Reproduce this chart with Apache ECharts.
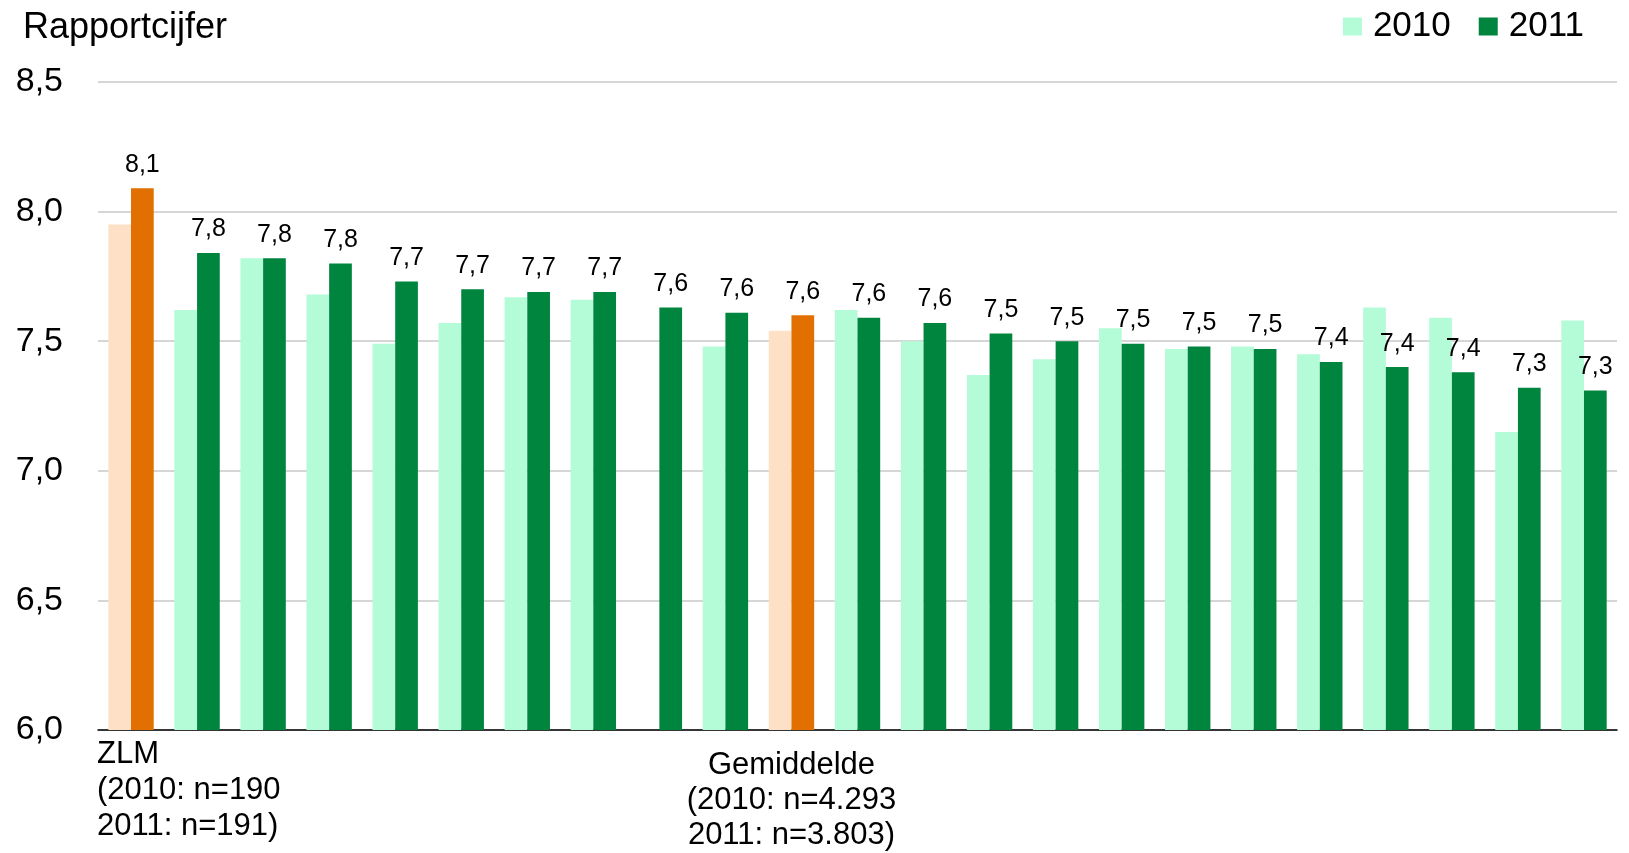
<!DOCTYPE html>
<html>
<head>
<meta charset="utf-8">
<script src="https://cdn.jsdelivr.net/npm/echarts@6/dist/echarts.min.js"></script>
<style>
html,body{margin:0;padding:0;background:#fff;}
#chart{width:1629px;height:853px;}
</style>
</head>
<body>
<div id="chart"></div>
<script>
const categories = [
  'ZLM\n(2010: n=190\n2011: n=191)', '', '', '', '', '', '', '', '', '',
  'Gemiddelde\n(2010: n=4.293\n2011: n=3.803)', '', '', '', '', '', '', '', '', '', '', '', ''
];
const seriesNames = ['2010', '2011'];
const values2010 = [7.95, 7.62, 7.82, 7.68, 7.49, 7.57, 7.67, 7.66, null, 7.48, 7.54, 7.62, 7.50, 7.37, 7.43, 7.55, 7.47, 7.48, 7.45, 7.63, 7.59, 7.15, 7.58];
const values2011 = [8.09, 7.84, 7.82, 7.80, 7.73, 7.70, 7.69, 7.69, 7.63, 7.61, 7.60, 7.59, 7.57, 7.53, 7.50, 7.49, 7.48, 7.47, 7.42, 7.40, 7.38, 7.32, 7.31];
const highlightIndex = [0, 10];
const yTicks = [6.0, 6.5, 7.0, 7.5, 8.0, 8.5];

const FONT = "'Liberation Sans', Arial, sans-serif";
const C2010 = '#b3fcd7', C2011 = '#00853f', H2010 = '#fde0c5', H2011 = '#e27000';

function build(vals, hcol) {
  return vals.map((v, i) => highlightIndex.includes(i)
    ? { value: v, itemStyle: { color: hcol } }
    : { value: v });
}
const fmt = v => v.toFixed(1).replace('.', ',');

const chart = echarts.init(document.getElementById('chart'));
chart.setOption({
  animation: false,
  textStyle: { fontFamily: FONT, color: '#000' },
  title: {
    text: 'Rapportcijfer', left: 18, top: 5,
    textStyle: { fontFamily: FONT, fontSize: 36, fontWeight: 'normal', color: '#000' }
  },
  legend: {
    data: seriesNames, right: 40, top: 4, icon: 'rect',
    itemWidth: 19, itemHeight: 18, itemGap: 28,
    textStyle: { fontFamily: FONT, fontSize: 35, color: '#000', padding: [0, 0, 0, 6] }
  },
  grid: { left: 98, right: 12, top: 82, bottom: 121.5, containLabel: false },
  xAxis: {
    type: 'category', data: categories,
    axisLine: { show: true, lineStyle: { color: '#000', width: 1.5 } },
    axisTick: { show: false },
    axisLabel: {
      interval: 0, margin: 6, color: '#000', fontFamily: FONT, fontSize: 31, lineHeight: 36,
      formatter: function (value, index) {
        if (!value) return '';
        const lines = value.split('\n');
        if (index === 0) return lines.map(s => '{z|' + s + '}').join('\n');
        return '{sp| }\n' + lines.map(s => '{g|' + s + '}').join('\n');
      },
      rich: {
        z: { width: 68, align: 'left', fontFamily: FONT, fontSize: 31, lineHeight: 36, color: '#000' },
        g: { fontFamily: FONT, fontSize: 31, lineHeight: 35, color: '#000' },
        sp: { fontSize: 4, lineHeight: 12 }
      }
    }
  },
  yAxis: {
    type: 'value', min: yTicks[0], max: yTicks[yTicks.length - 1], interval: 0.5,
    axisLine: { show: false }, axisTick: { show: false },
    splitLine: { lineStyle: { color: '#c9c9c9', width: 1.5 } },
    axisLabel: { margin: 35, color: '#000', fontFamily: FONT, fontSize: 34, formatter: fmt }
  },
  series: [
    {
      name: seriesNames[0], type: 'bar', barWidth: 22.7, barGap: '0%',
      itemStyle: { color: C2010 },
      data: build(values2010, H2010)
    },
    {
      name: seriesNames[1], type: 'bar', barWidth: 22.7, barGap: '0%',
      itemStyle: { color: C2011 },
      data: build(values2011, H2011),
      label: {
        show: true, position: 'top', distance: 11, color: '#000',
        fontFamily: FONT, fontSize: 25,
        formatter: p => fmt(p.value)
      }
    }
  ]
});
</script>
</body>
</html>
